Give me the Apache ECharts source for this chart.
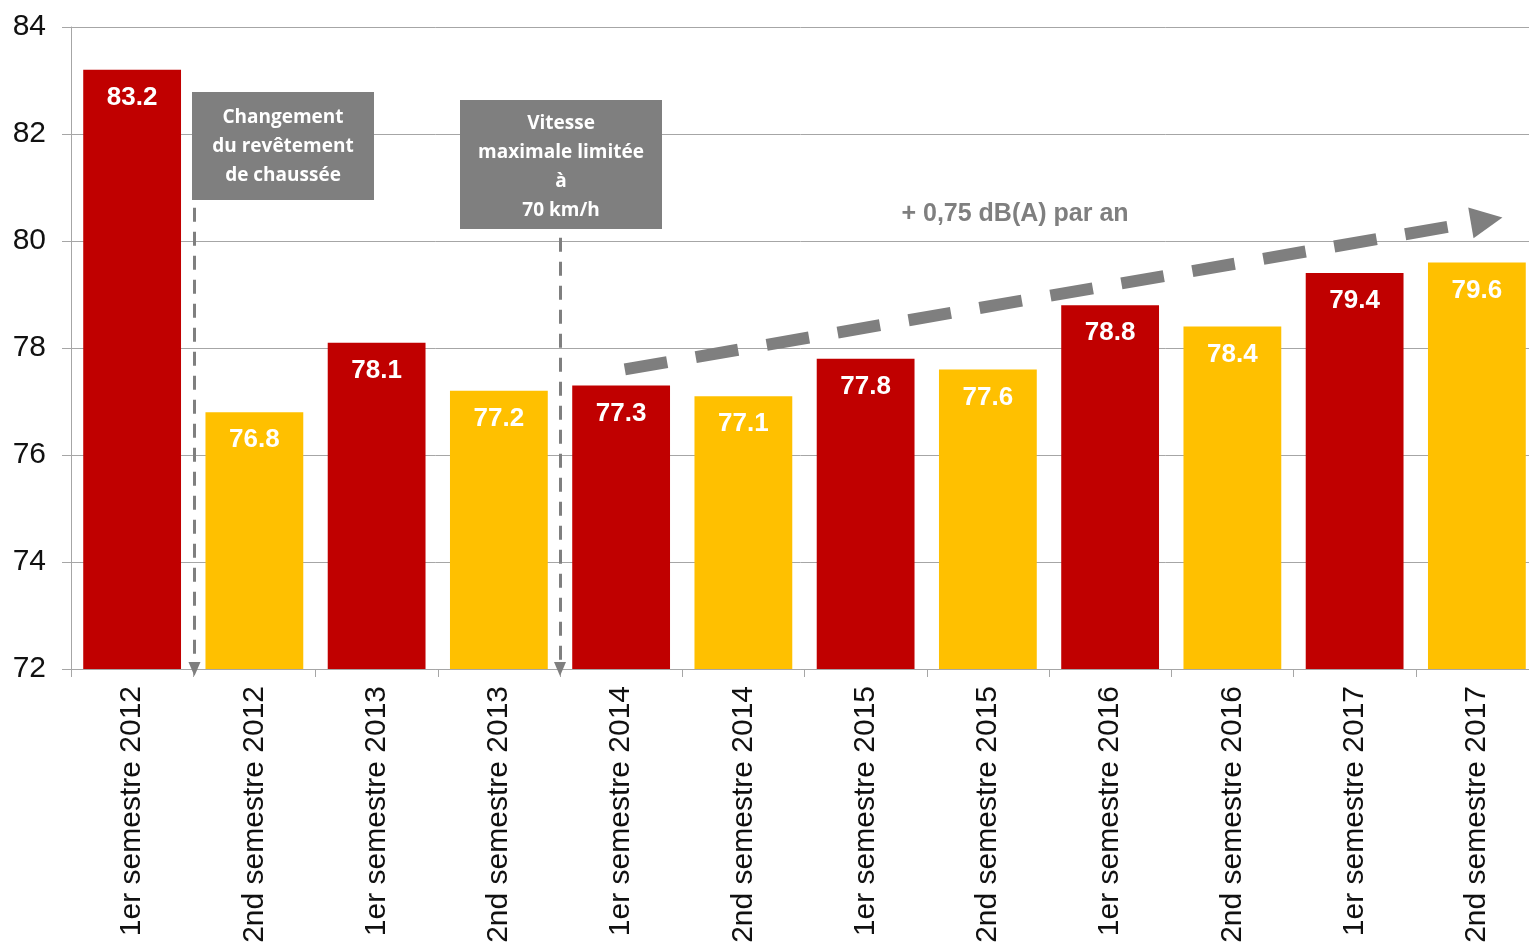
<!DOCTYPE html>
<html>
<head>
<meta charset="utf-8">
<script src="https://cdn.jsdelivr.net/npm/echarts@6/dist/echarts.min.js"></script>
<style>
html,body{margin:0;padding:0;background:#fff;}
#chart{width:1529px;height:945px;}
</style>
</head>
<body>
<div id="chart"></div>
<script>
const categories = ["1er semestre 2012","2nd semestre 2012","1er semestre 2013","2nd semestre 2013","1er semestre 2014","2nd semestre 2014","1er semestre 2015","2nd semestre 2015","1er semestre 2016","2nd semestre 2016","1er semestre 2017","2nd semestre 2017"];
const values = [83.2, 76.8, 78.1, 77.2, 77.3, 77.1, 77.8, 77.6, 78.8, 78.4, 79.4, 79.6];
const yTicks = {min: 72, max: 84, interval: 2};
const annotation1 = ["Changement", "du revêtement", "de chaussée"];
const annotation2 = ["Vitesse", "maximale limitée", "à", "70 km/h"];
const trendLabel = "+ 0,75 dB(A) par an";
// annotation lines in (category-position, value) space
const event1 = {x: 1.01, yFrom: 80.62, yTo: 72};
const event2 = {x: 4.0, yFrom: 80.06, yTo: 72};
const trend = {from: [4.53, 77.6], to: [11.58, 80.39]};

const RED = '#C00000', YELLOW = '#FFC000', GREY = '#7F7F7F';
const chart = echarts.init(document.getElementById('chart'));

const barData = values.map((v, i) => ({value: v, itemStyle: {color: i % 2 === 0 ? RED : YELLOW}}));

function boxText(lines, x, y, w, h, lineH, dy) {
  return [{
    type: 'rect', shape: {x: x, y: y, width: w, height: h}, style: {fill: GREY}, z: 50
  }, {
    type: 'text', x: x + w / 2, y: y + h / 2 + dy, z: 51,
    style: {text: lines.join('\n'), fill: '#fff', font: 'bold 19px "Open Sans", sans-serif',
      align: 'center', verticalAlign: 'middle', lineHeight: lineH}
  }];
}

const option = {
  animation: false,
  backgroundColor: '#fff',
  grid: {left: 71, width: 1467, top: 27, bottom: 276, containLabel: false, outerBoundsMode: 'none'},
  xAxis: [{
    type: 'category', data: categories,
    axisLine: {lineStyle: {color: '#A6A6A6', width: 1}},
    axisTick: {show: true, length: 8, lineStyle: {color: '#A6A6A6'}},
    axisLabel: {rotate: 90, margin: 17, fontSize: 30, color: '#111', fontFamily: '"Liberation Sans", Arial, sans-serif'}
  }, {
    type: 'value', min: 0, max: 12, show: false
  }],
  yAxis: {
    type: 'value', min: yTicks.min, max: yTicks.max, interval: yTicks.interval,
    axisLine: {show: true, lineStyle: {color: '#A6A6A6'}},
    axisTick: {show: true, length: 9, lineStyle: {color: '#A6A6A6'}},
    splitLine: {lineStyle: {color: '#A6A6A6', width: 1}},
    axisLabel: {fontSize: 30, color: '#111', margin: 25, fontFamily: '"Liberation Sans", Arial, sans-serif'}
  },
  series: [{
    type: 'bar', data: barData, barCategoryGap: '20%',
    label: {show: true, position: 'insideTop', distance: 15, color: '#fff', fontWeight: 'bold',
      fontSize: 26, fontFamily: '"Liberation Sans", Arial, sans-serif',
      formatter: p => p.value.toFixed(1)}
  }, {
    type: 'line', xAxisIndex: 1, data: [], silent: true,
    markLine: {
      silent: true, animation: false,
      label: {show: false},
      data: [
        [{coord: [event1.x, event1.yFrom], symbol: 'none'}, {coord: [event1.x, event1.yTo], symbol: 'triangle', symbolSize: [12, 14],
          lineStyle: {color: GREY, width: 3, type: [14, 10]}}],
        [{coord: [event2.x, event2.yFrom], symbol: 'none'}, {coord: [event2.x, event2.yTo], symbol: 'triangle', symbolSize: [12, 14],
          lineStyle: {color: GREY, width: 3, type: [14, 10]}}],
        [{coord: trend.from, symbol: 'none'}, {coord: trend.to, symbol: 'triangle', symbolSize: [31, 32],
          lineStyle: {color: GREY, width: 12, type: [43, 29]}}]
      ]
    }
  }],
  graphic: [
    ...boxText(annotation1, 192, 92, 182, 108, 29, 1),
    ...boxText(annotation2, 460, 100, 202, 129, 29, 3),
    {type: 'text', x: 1015, y: 214, z: 51,
      style: {text: trendLabel, fill: GREY, font: 'bold 25px "Liberation Sans Narrow", "Liberation Sans", Arial, sans-serif',
        align: 'center', verticalAlign: 'middle'}}
  ]
};
chart.setOption(option);
</script>
</body>
</html>
